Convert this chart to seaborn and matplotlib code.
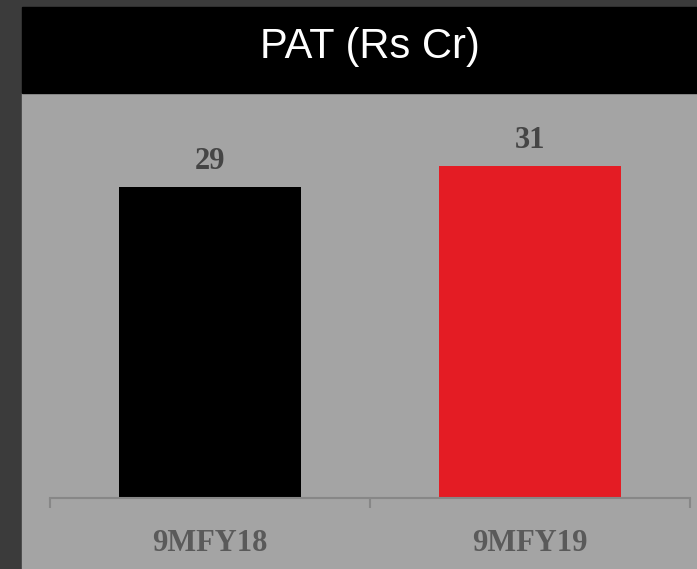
import numpy as np, pandas as pd
import matplotlib
matplotlib.use("Agg")
import matplotlib.pyplot as plt
from matplotlib.patches import Rectangle
import seaborn as sns

#%%
periods = ['9MFY18', '9MFY19']
pat = [29, 31]
bar_colors = ['#000000', '#e41c24']
title = 'PAT (Rs Cr)'

df = pd.DataFrame({'period': periods, 'pat': pat})

#%%
sns.set_style('white')
W, H = 697, 569
fig = plt.figure(figsize=(W / 100, H / 100), dpi=100)
fig.patch.set_facecolor('#3b3b3b')

# grey panel + black title strip
fig.patches.append(Rectangle((22 / W, 0), 1 - 22 / W, (H - 93) / H,
                             transform=fig.transFigure, color='#a4a4a4', zorder=-2))
fig.patches.append(Rectangle((22 / W, (H - 93) / H), 1 - 22 / W, 86 / H,
                             transform=fig.transFigure, color='#000000', zorder=-2))
fig.text(370 / W, (H - 47) / H, title, color='white',
         fontsize=30, family='Liberation Sans', ha='center', va='center')

ax = fig.add_axes([50 / W, (H - 498) / H, 640 / W, 388 / H])
ax.set_zorder(2)
ax.patch.set_alpha(0)

sns.barplot(data=df, x='period', y='pat', hue='period', palette=bar_colors,
            width=0.57, saturation=1, legend=False, linewidth=0, ax=ax)

ax.set_xlim(-0.5, 1.5)
ax.set_ylim(0, 36.2)
for c in ax.containers:
    ax.bar_label(c, fmt='%d', padding=8, fontsize=22, fontweight='bold',
                 family='Liberation Serif', color='#454545')

for s in ['top', 'left', 'right']:
    ax.spines[s].set_visible(False)
ax.spines['bottom'].set_color('#878787')
ax.spines['bottom'].set_linewidth(1.5)
ax.set_yticks([])
ax.set_xticks([0, 1])
ax.set_xticklabels(periods, fontsize=22, fontweight='bold', family='Liberation Serif',
                   color='#5a5a5a')
ax.set_xticks([-0.5, 0.5, 1.5], minor=True)
ax.tick_params(axis='x', which='major', length=0, pad=22)
ax.tick_params(axis='x', which='minor', length=7, width=1.5, color='#878787',
               direction='out', bottom=True)
ax.set_xlabel('')
ax.set_ylabel('')

fig.savefig('out.png', dpi=100, facecolor=fig.get_facecolor())
